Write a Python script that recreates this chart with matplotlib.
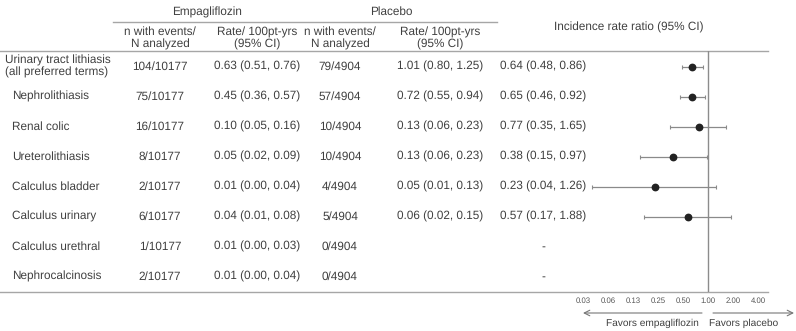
import matplotlib
matplotlib.use("Agg")
import matplotlib.pyplot as plt

plt.rcParams['font.family'] = ['Liberation Sans', 'DejaVu Sans']
plt.rcParams['text.hinting'] = 'no_hinting'

# table data
terms = ["Urinary tract lithiasis\n(all preferred terms)", "Nephrolithiasis", "Renal colic",
         "Ureterolithiasis", "Calculus bladder", "Calculus urinary", "Calculus urethral",
         "Nephrocalcinosis"]
empa_n = ["104/10177", "75/10177", "16/10177", "8/10177", "2/10177", "6/10177", "1/10177", "2/10177"]
empa_rate = ["0.63 (0.51, 0.76)", "0.45 (0.36, 0.57)", "0.10 (0.05, 0.16)", "0.05 (0.02, 0.09)",
             "0.01 (0.00, 0.04)", "0.04 (0.01, 0.08)", "0.01 (0.00, 0.03)", "0.01 (0.00, 0.04)"]
pbo_n = ["79/4904", "57/4904", "10/4904", "10/4904", "4/4904", "5/4904", "0/4904", "0/4904"]
pbo_rate = ["1.01 (0.80, 1.25)", "0.72 (0.55, 0.94)", "0.13 (0.06, 0.23)", "0.13 (0.06, 0.23)",
            "0.05 (0.01, 0.13)", "0.06 (0.02, 0.15)", "", ""]
irr = [0.64, 0.65, 0.77, 0.38, 0.23, 0.57, None, None]
irr_lo = [0.48, 0.46, 0.35, 0.15, 0.04, 0.17, None, None]
irr_hi = [0.86, 0.92, 1.65, 0.97, 1.26, 1.88, None, None]
tick_vals = [1/32, 1/16, 1/8, 1/4, 1/2, 1, 2, 4]
tick_labels = ["0.03", "0.06", "0.13", "0.25", "0.50", "1.00", "2.00", "4.00"]

W, H = 796, 331
fig = plt.figure(figsize=(W / 100, H / 100), dpi=100)

# background axes in pixel units for the table layout
bg = fig.add_axes([0, 0, 1, 1])
bg.set_xlim(0, W)
bg.set_ylim(H, 0)
bg.axis('off')

txt = '#404040'
line_c = '#a6a6a6'
fs = 8.5

row_y0, row_dy = 66.5, 30
col_x = [160, 257, 340, 440]

# headers
bg.text(207, 12, "Empagliflozin", ha='center', va='center', fontsize=fs, color=txt)
bg.text(391, 12, "Placebo", ha='center', va='center', fontsize=fs, color=txt)
bg.plot([113, 497], [22, 22], color=line_c, lw=1)
for x, h in zip(col_x, ["n with events/\nN analyzed", "Rate/ 100pt-yrs\n(95% CI)",
                        "n with events/\nN analyzed", "Rate/ 100pt-yrs\n(95% CI)"]):
    bg.text(x, 38.5, h, ha='center', va='center', fontsize=fs, color=txt, linespacing=1.15)
bg.text(629, 27.5, "Incidence rate ratio (95% CI)", ha='center', va='center', fontsize=fs, color=txt)
bg.plot([0, 768], [51, 51], color=line_c, lw=1)
bg.plot([0, 768], [292, 292], color=line_c, lw=1)

# table rows
for i, term in enumerate(terms):
    y = row_y0 + i * row_dy
    lx = 5 if i == 0 else 12
    bg.text(lx, y, term, ha='left', va='center', fontsize=fs, color=txt, linespacing=1.15)
    for x, col in zip(col_x, [empa_n, empa_rate, pbo_n, pbo_rate]):
        bg.text(x, y, col[i], ha='center', va='center', fontsize=fs, color=txt)
    if irr[i] is None:
        s = "-"
    else:
        s = f"{irr[i]:.2f} ({irr_lo[i]:.2f}, {irr_hi[i]:.2f})"
    bg.text(543, y, s, ha='center', va='center', fontsize=fs, color=txt)

# forest plot axes: log2 scale, 1.00 at x=708, 25 px per doubling
L, R, T, B = 578, 768, 51, 292
ax = fig.add_axes([L / W, 1 - B / H, (R - L) / W, (B - T) / H])
ax.patch.set_alpha(0)
ax.set_xscale('log', base=2)
ax.set_xlim(2 ** (-(708 - L) / 25), 2 ** ((R - 708) / 25))
ax.set_ylim((B - row_y0) / row_dy, (T - row_y0) / row_dy)
for s in ax.spines.values():
    s.set_visible(False)
ax.axvline(1, color='#8c8c8c', lw=1)

for i in range(len(terms)):
    if irr[i] is None:
        continue
    ax.errorbar(irr[i], i, xerr=[[irr[i] - irr_lo[i]], [irr_hi[i] - irr[i]]],
                fmt='o', color='#222222', ms=4.6, ecolor='#8a8a8a', elinewidth=0.9,
                capsize=1.6, capthick=0.8)

ax.set_yticks([])
ax.set_xticks(tick_vals)
ax.set_xticklabels(tick_labels)
ax.minorticks_off()
ax.tick_params(axis='x', length=0, pad=3.5, labelsize=5.6, labelcolor='#555555')

# favors arrows
arr = dict(arrowstyle='->', color='#777777', lw=0.8, shrinkA=0, shrinkB=0)
bg.annotate("", xy=(583, 313), xytext=(702, 313), arrowprops=arr)
bg.annotate("", xy=(794, 313), xytext=(713, 313), arrowprops=arr)
bg.text(699, 323, "Favors empagliflozin", ha='right', va='center', fontsize=7.3, color=txt)
bg.text(709, 323, "Favors placebo", ha='left', va='center', fontsize=7.3, color=txt)

fig.savefig("out.png", dpi=100)
